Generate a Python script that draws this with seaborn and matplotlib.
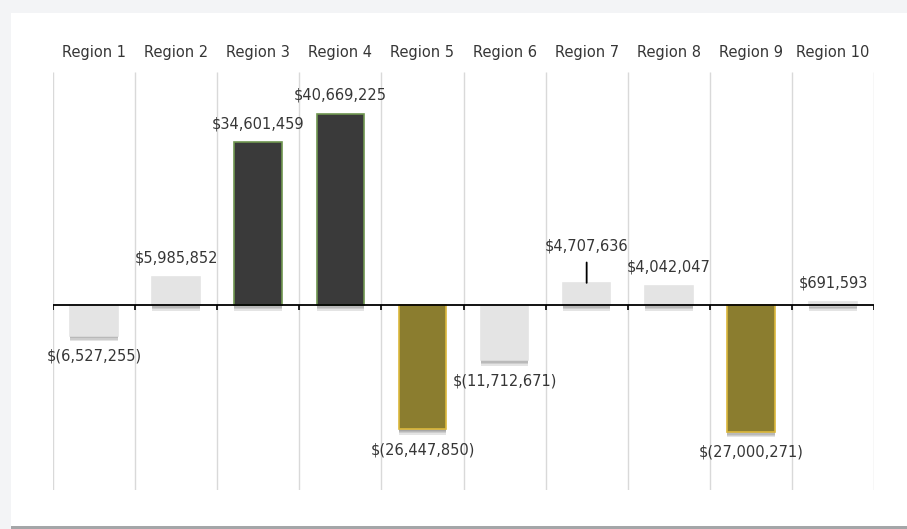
import matplotlib
matplotlib.use("Agg")
import matplotlib.pyplot as plt
import matplotlib.patheffects as pe
from matplotlib.patches import Rectangle
import seaborn as sns
import pandas as pd

regions = ["Region 1", "Region 2", "Region 3", "Region 4", "Region 5",
           "Region 6", "Region 7", "Region 8", "Region 9", "Region 10"]
values = [-6527255, 5985852, 34601459, 40669225, -26447850,
          -11712671, 4707636, 4042047, -27000271, 691593]


def money(v):
    if v < 0:
        return "$({:,})".format(-v)
    return "${:,}".format(v)


def bar_style(v):
    # big gains dark, big losses olive, the rest light grey
    if v > 20e6:
        return "#3a3a3a", "#6f9650"
    if v < -20e6:
        return "#8b7d2f", "#dcb83c"
    return "#e4e4e4", "#e4e4e4"


def name_needs_leader(i):
    # Region 7's label is pushed up to clear Region 8's
    return regions[i] == "Region 7"


def main():
    df = pd.DataFrame({"region": regions, "value": [v / 1e6 for v in values]})
    styles = [bar_style(v) for v in values]

    sns.set_style("white")
    plt.rcParams["font.family"] = ["DejaVu Sans"]

    fig = plt.figure(figsize=(9.07, 5.29), dpi=100, facecolor="#f3f4f6")
    W, H = 907.0, 529.0
    fig.patches.append(Rectangle((11 / W, 3 / H), 1 - 11 / W, 1 - 16 / H,
                                 transform=fig.transFigure, facecolor="white",
                                 edgecolor="none", zorder=-5))
    fig.patches.append(Rectangle((11 / W, 0), 1 - 11 / W, 3 / H,
                                 transform=fig.transFigure, facecolor="#a4a6a8",
                                 edgecolor="none", zorder=-5))

    ax = fig.add_axes([53 / W, 1 - 490 / H, 821 / W, 418 / H])
    ax.set_facecolor("none")

    sns.barplot(data=df, x="region", y="value", hue="region",
                palette=[s[0] for s in styles], legend=False,
                width=0.58, saturation=1, ax=ax, zorder=3)

    # soft drop shadow: a few stacked faint copies shifted down
    shadow = [pe.SimplePatchShadow(offset=(0, -k), shadow_rgbFace="#333333", alpha=0.13)
              for k in (1, 2, 3, 4)]
    shadow.append(pe.Normal())
    for patch, (face, edge) in zip(ax.patches, styles):
        patch.set_edgecolor(edge)
        patch.set_linewidth(1.2)
        patch.set_path_effects(shadow)

    ax.set_xlim(-0.5, 9.5)
    ax.set_ylim(-39.4, 49.6)
    bounds = [i - 0.5 for i in range(11)]
    ax.vlines(bounds, -39.4, 49.6, color="#d9d9d9", lw=1, zorder=1)
    ax.axhline(0, color="black", lw=1.3, zorder=5)
    ax.vlines(bounds, -1.1, 0, color="black", lw=1.2, zorder=5)

    for s in ax.spines.values():
        s.set_visible(False)
    ax.set_xticks([])
    ax.set_yticks([])
    ax.set_xlabel("")
    ax.set_ylabel("")

    for i, name in enumerate(regions):
        ax.text(i, 1 + 19 / 418, name, transform=ax.get_xaxis_transform(),
                ha="center", va="center", fontsize=10.5, color="#363636")

    for i, v in enumerate(values):
        y = v / 1e6
        if name_needs_leader(i):
            ax.annotate(money(v), (i, y), xytext=(0, 21), textcoords="offset points",
                        ha="center", va="bottom", fontsize=10.5, color="#363636",
                        arrowprops=dict(arrowstyle="-", color="black", lw=1.3,
                                        shrinkA=4, shrinkB=0), zorder=6)
        elif v >= 0:
            ax.annotate(money(v), (i, y), xytext=(0, 8), textcoords="offset points",
                        ha="center", va="bottom", fontsize=10.5, color="#363636", zorder=6)
        else:
            ax.annotate(money(v), (i, y), xytext=(0, -9.5), textcoords="offset points",
                        ha="center", va="top", fontsize=10.5, color="#363636", zorder=6)

    plt.savefig("out.png", dpi=100, facecolor=fig.get_facecolor())
    plt.close()


if __name__ == '__main__':
    main()
